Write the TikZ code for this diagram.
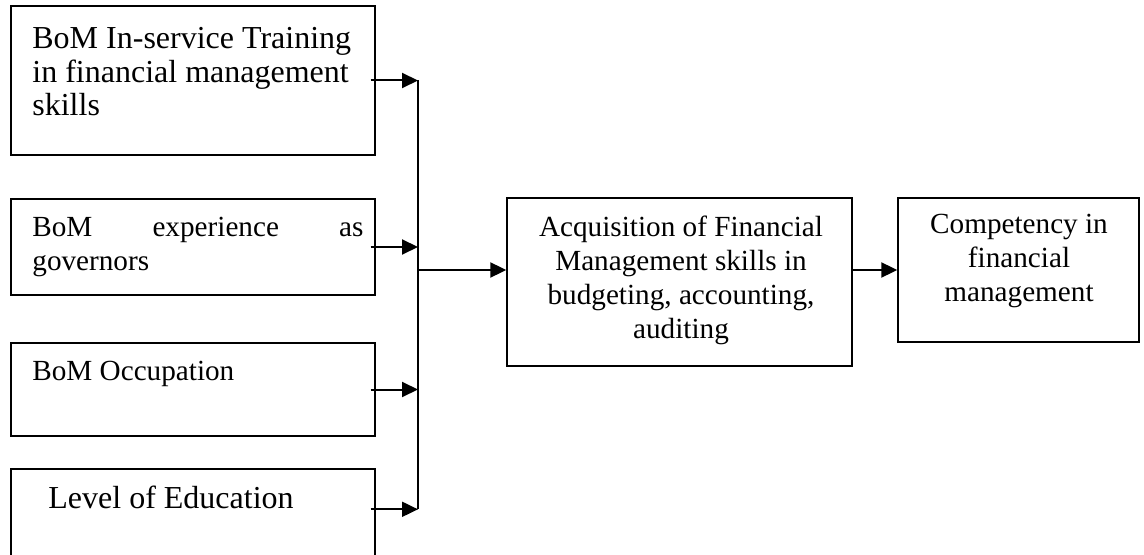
\documentclass[tikz,border=0pt]{standalone}
\usepackage{fontspec}
\setmainfont{Liberation Serif}
\usetikzlibrary{fit,arrows.meta}

\begin{document}
\begin{tikzpicture}[x=0.5pt,y=-0.5pt,>={Triangle[length=8pt,width=7.5pt]},
  box/.style={draw,line width=0.7pt,inner sep=0pt},
  txt/.style={inner sep=0pt,anchor=north west,align=left,font=\fontsize{14.6}{17}\selectfont},
  bigtxt/.style={txt,font=\fontsize{16}{16.8}\selectfont},
  link/.style={->,line width=1pt}]
\clip (0,0) rectangle (1144,555);

% four input boxes
\node[box,fit={(11,6) (375,155)}] (train) {};
\node[box,fit={(11,199) (375,295)}] (exper) {};
\node[box,fit={(11,343) (375,436)}] (occup) {};
\node[box,fit={(11,469) (375,600)}] (educ) {};

\node[bigtxt] (train text) at (32,27) {BoM In-service Training\\in financial management\\skills};
\node[txt,text width=165.5pt] (exper text) at (32,217) {BoM\hfill experience\hfill as\\governors};
\node[txt] (occup text) at (32,361) {BoM Occupation};
\node[bigtxt] (educ text) at (48,486) {Level of Education};

% middle and outcome boxes
\node[box,fit={(507,198) (852,366)}] (acq) {};
\node[txt,anchor=north,align=center] (acq text) at (681,216)
  {Acquisition of Financial\\Management skills in\\budgeting, accounting,\\auditing};
\node[box,fit={(898,198) (1139,342)}] (comp) {};
\node[txt,anchor=north,align=center] (comp text) at (1019,214)
  {Competency in\\financial\\management};

\coordinate (bus) at (418,270);

\draw[link] ([xshift=-2.5pt]train.east) -- (train.east -| bus);
\draw[link] ([xshift=-2.5pt]exper.east) -- (exper.east -| bus);
\draw[link] ([xshift=-2.5pt]occup.east) -- (occup.east -| bus);
\draw[link] ([xshift=-2.5pt,yshift=-20.5pt]educ.north east) -- ([yshift=-20.5pt]educ.north east -| bus);
\draw[line width=1pt] (train.east -| bus) -- ([yshift=-20.5pt]educ.north east -| bus);

\draw[link] (bus) -- (bus -| acq.west);
\draw[link] (acq.east |- bus) -- (comp.west |- bus);
\end{tikzpicture}
\end{document}
